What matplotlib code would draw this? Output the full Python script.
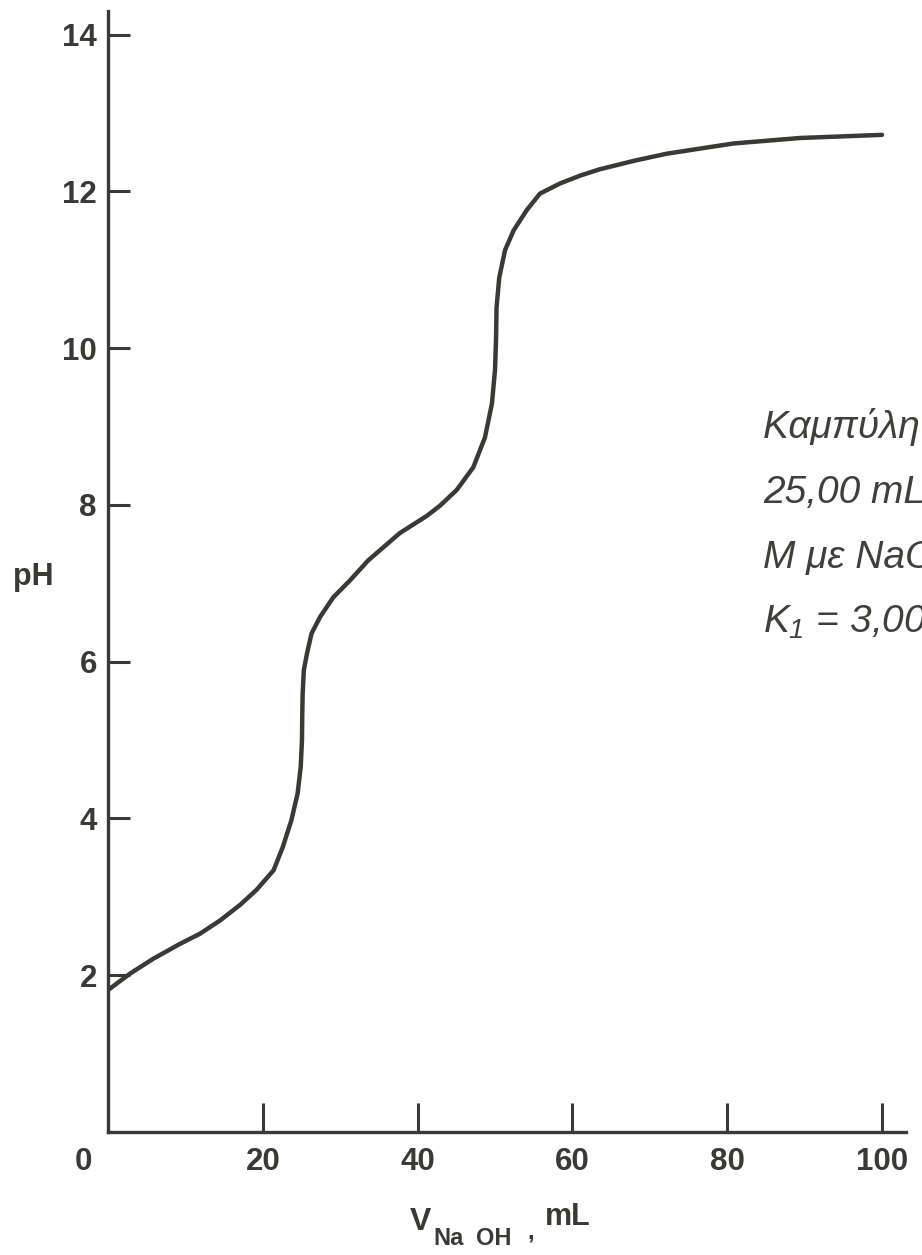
import matplotlib
matplotlib.use("Agg")
import matplotlib.pyplot as plt

# titration curve (mL NaOH, pH)
vol = [0, 2.84, 5.85, 9.3, 11.9, 14.5, 17.1, 19.2, 21.4, 22.6, 23.7, 24.5,
       24.9, 25.06, 25.1, 25.15, 25.3, 25.7, 26.3, 27.4, 29.1, 31.3, 33.6,
       37.7, 41.2, 42.9, 45.05, 47.2, 48.7, 49.6, 50.0, 50.14, 50.2, 50.55,
       51.3, 52.4, 54.1, 55.8, 58.4, 61.0, 63.5, 68.0, 72.2, 80.8, 89.4, 100.0]
ph = [1.81, 2.02, 2.21, 2.40, 2.53, 2.70, 2.90, 3.09, 3.34, 3.64, 3.98, 4.32,
      4.66, 5.00, 5.34, 5.59, 5.89, 6.10, 6.36, 6.57, 6.82, 7.04, 7.29,
      7.64, 7.86, 7.99, 8.19, 8.48, 8.86, 9.29, 9.72, 10.14, 10.52, 10.90,
      11.25, 11.50, 11.76, 11.97, 12.10, 12.20, 12.28, 12.39, 12.48, 12.61, 12.68, 12.72]

x_ticks = [20, 40, 60, 80, 100]
y_ticks = [2, 4, 6, 8, 10, 12, 14]

note_lines = ["Καμπύλη τιτλοδότησης",
              "25,00 mL H₂A 0,1000",
              "M με NaOH 0,1000 M",
              r"$K_{\mathit{1}}$ = 3,00 × 10⁻³"]

ink = "#3a3936"
W, H = 922, 1255

plt.rcParams["font.family"] = ["Liberation Sans", "DejaVu Sans"]
plt.rcParams["font.weight"] = "bold"
plt.rcParams["mathtext.fontset"] = "custom"
plt.rcParams["mathtext.it"] = "Liberation Sans:style=italic:weight=normal"
plt.rcParams["mathtext.rm"] = "Liberation Sans:style=italic:weight=normal"


def px(x, y):
    # pixel position in the reference -> figure fraction
    return x / W, 1 - y / H


fig = plt.figure(figsize=(W / 100, H / 100), dpi=100)
ax = fig.add_axes([108 / W, (H - 1132) / H, (906 - 108) / W, (1132 - 11) / H])

ax.plot(vol, ph, color=ink, lw=3.2, solid_capstyle="round", solid_joinstyle="round")

ax.set_xlim(0, 103.1)
ax.set_ylim(0, 14.3)
ax.set_xticks(x_ticks)
ax.set_yticks(y_ticks)
for side in ["top", "right"]:
    ax.spines[side].set_visible(False)
for side in ["left", "bottom"]:
    ax.spines[side].set_linewidth(2.4)
    ax.spines[side].set_color(ink)

ax.tick_params(axis="x", direction="in", length=21, width=2.2, pad=11,
               labelsize=22.5, color=ink, labelcolor=ink)
ax.tick_params(axis="y", direction="in", length=16, width=2.2, pad=8,
               labelsize=22.5, color=ink, labelcolor=ink)

# origin label sits off the corner
fig.text(*px(83, 1162), "0", ha="center", va="center", fontsize=22.5, color=ink)

# axis titles
fig.text(*px(13, 585), "pH", ha="left", va="baseline", fontsize=22, color=ink)
fig.text(*px(410, 1230), "V", ha="left", va="baseline", fontsize=23, color=ink)
fig.text(*px(433, 1245), "Na", ha="left", va="baseline", fontsize=17, color=ink)
fig.text(*px(476, 1245), "OH", ha="left", va="baseline", fontsize=17, color=ink)
fig.text(*px(527, 1238), ",", ha="left", va="baseline", fontsize=17, color=ink)
fig.text(*px(545, 1225), "mL", ha="left", va="baseline", fontsize=22, color=ink)

# caption on the right, cut by the page edge as in the scan
for i, line in enumerate(note_lines):
    fig.text(*px(763, 438 + 65 * i), line, ha="left", va="baseline",
             fontsize=28, style="italic", weight="normal", color="#403f3b")

fig.savefig("out.png", dpi=100)
